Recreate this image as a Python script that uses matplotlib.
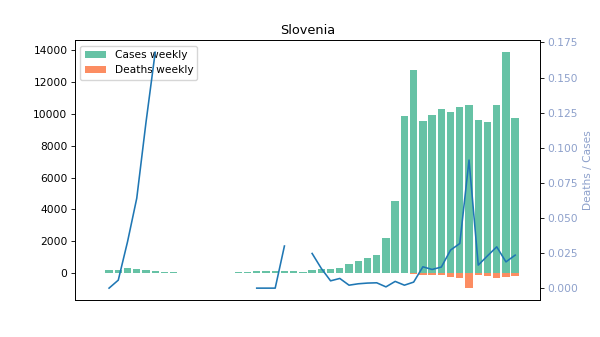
import numpy as np
import matplotlib
matplotlib.use("Agg")
import matplotlib.pyplot as plt

nan = np.nan

# Weekly counts (one entry per week)
cases_weekly = [170, 160, 290, 230, 170, 100, 60, 60,
                nan, nan, nan, nan, nan, nan,
                45, 45, 105, 105, 105, 105, 105, 50,
                180, 250, 250, 315, 550, 755, 925, 1110, 2180, 4510,
                9855, 12750, 9560, 9920, 10300, 10110, 10420, 10550,
                9600, 9480, 10550, 13880, 9730]

deaths_weekly = [nan] * 33 + [80, 125, 125, 125, 225, 290, 950,
                              125, 165, 290, 250, 190]

deaths_per_case = [0.0, 0.0057, 0.033, 0.064, 0.118, 0.168,
                   nan, nan, nan, nan, nan, nan, nan, nan, nan, nan,
                   0.0, 0.0, 0.0, 0.030,
                   nan, nan,
                   0.0247, 0.014, 0.0052, 0.0069, 0.0021, 0.0031, 0.0036,
                   0.0038, 0.0009, 0.0048, 0.0021, 0.0043, 0.0152, 0.0133,
                   0.0150, 0.0271, 0.0318, 0.0912, 0.0164, 0.0230, 0.0294,
                   0.0187, 0.0235]

country = "Slovenia"

green, orange, blue = "#66c2a5", "#fc8d62", "#8da0cb"

s = 0.77
plt.rcParams.update({
    "font.size": 10 * s,
    "axes.linewidth": 0.8 * s,
    "xtick.major.size": 3.5 * s,
    "ytick.major.size": 3.5 * s,
    "xtick.major.width": 0.8 * s,
    "ytick.major.width": 0.8 * s,
    "xtick.major.pad": 3.5 * s,
    "ytick.major.pad": 3.5 * s,
    "axes.titlepad": 6 * s,
    "axes.labelpad": 4 * s,
})

weeks = np.arange(len(cases_weekly))
cases = np.array(cases_weekly, dtype=float)
deaths = np.array(deaths_weekly, dtype=float)
ratio = np.array(deaths_per_case, dtype=float)

fig, ax = plt.subplots(figsize=(6, 3.37), dpi=100)
ax.bar(weeks, cases, width=0.8, color=green, label="Cases weekly")
ax.bar(weeks, -deaths, width=0.8, color=orange, label="Deaths weekly")
ax.set_xlim(-3.69, 46.69)
ax.set_xticks([])
ax.legend(loc="upper left")
ax.set_title(country)

ax2 = ax.twinx()
ax2.plot(weeks, ratio, color="#1f77b4", lw=1.5 * s)
ax2.set_ylabel("Deaths / Cases", color=blue)
ax2.tick_params(axis="y", labelcolor=blue)
ax2.set_xlim(-3.69, 46.69)

fig.savefig("out.png", dpi=100)
